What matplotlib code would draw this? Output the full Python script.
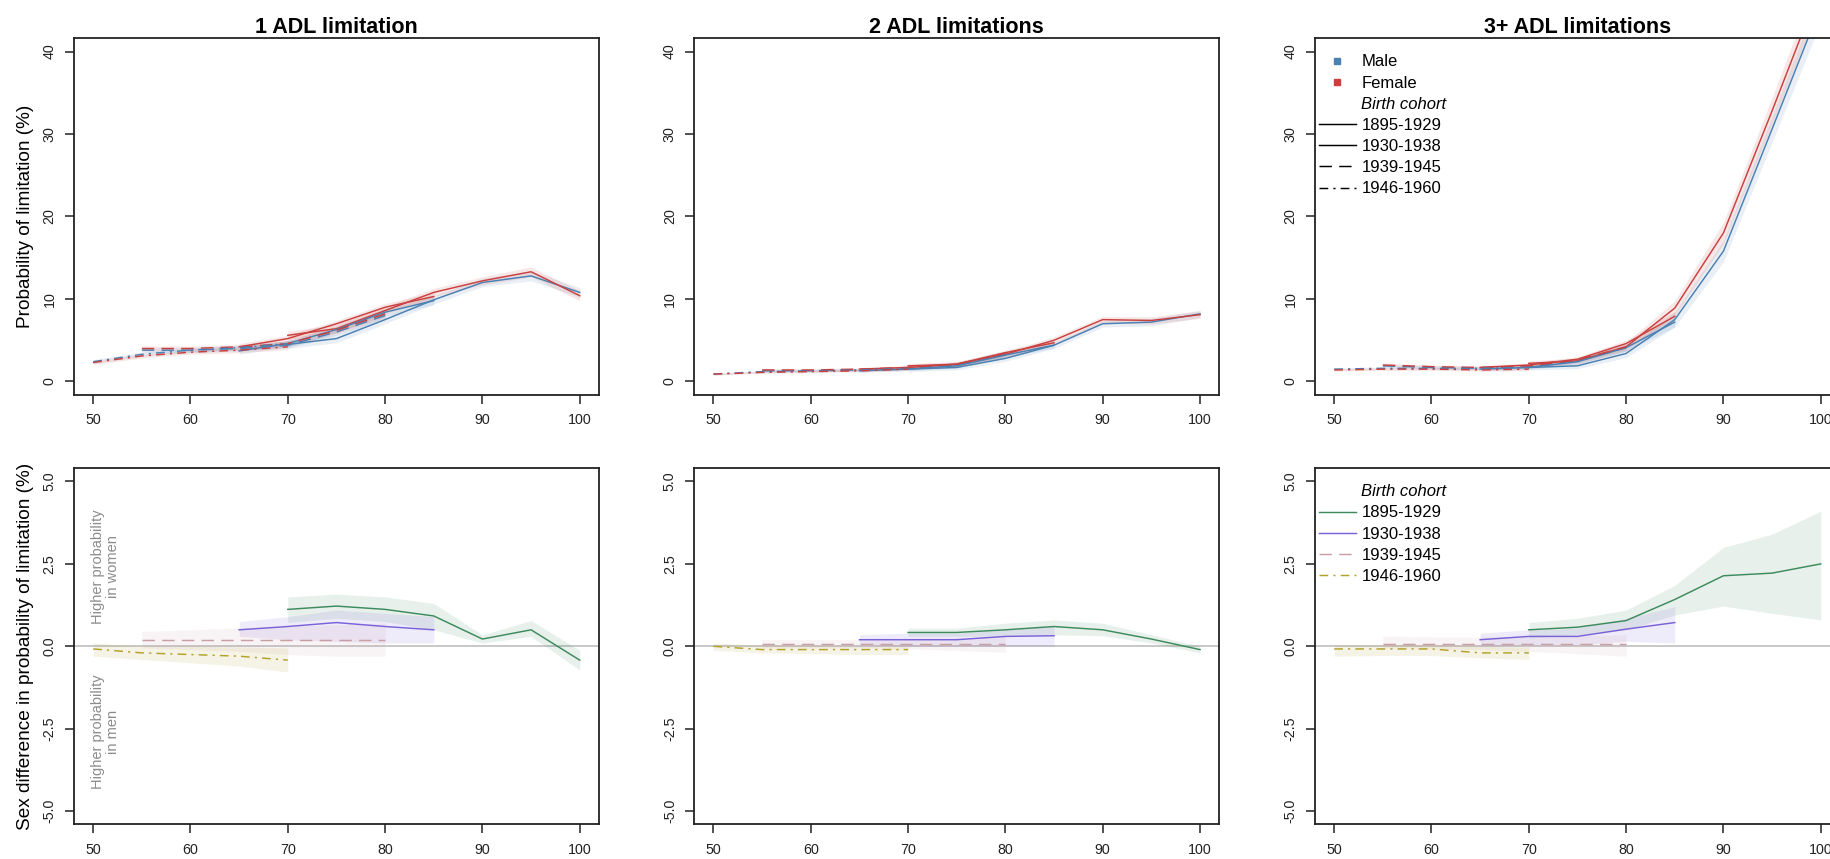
import matplotlib
matplotlib.use("Agg")
import matplotlib.pyplot as plt
from matplotlib.lines import Line2D

plt.rcParams['font.family'] = ['Liberation Sans', 'DejaVu Sans']

# ages observed for each birth cohort
cohorts = ["1895-1929", "1930-1938", "1939-1945", "1946-1960"]
ages_c1 = [70, 75, 80, 85, 90, 95, 100]
ages_c2 = [65, 70, 75, 80, 85]
ages_c3 = [55, 60, 65, 70, 75, 80]
ages_c4 = [50, 55, 60, 65, 70]

panel_titles = ["1 ADL limitation", "2 ADL limitations", "3+ ADL limitations"]

# --- probability of limitation (%), male / female, per panel and cohort ---
adl1_male = [[4.5, 5.2, 7.5, 9.9, 12.0, 12.8, 10.8],
             [3.7, 4.6, 6.3, 8.4, 9.8],
             [3.8, 3.8, 4.0, 4.4, 6.0, 8.0],
             [2.4, 3.3, 3.8, 4.1, 4.6]]
adl1_female = [[5.6, 6.4, 8.6, 10.8, 12.2, 13.3, 10.4],
               [4.2, 5.2, 7.0, 9.0, 10.3],
               [4.0, 4.0, 4.2, 4.6, 6.2, 8.2],
               [2.3, 3.1, 3.55, 3.8, 4.2]]
adl1_halfwidth = [[0.5, 0.5, 0.5, 0.5, 0.5, 0.6, 0.6],
                  [0.4, 0.4, 0.4, 0.45, 0.5],
                  [0.3, 0.3, 0.3, 0.35, 0.4, 0.45],
                  [0.25, 0.25, 0.25, 0.3, 0.35]]

adl2_male = [[1.5, 1.7, 2.8, 4.4, 7.0, 7.2, 8.2],
             [1.3, 1.5, 1.9, 3.2, 4.4],
             [1.3, 1.3, 1.4, 1.6, 2.0, 3.3],
             [0.9, 1.2, 1.3, 1.4, 1.6]]
adl2_female = [[1.9, 2.1, 3.3, 5.0, 7.5, 7.4, 8.1],
               [1.5, 1.7, 2.1, 3.5, 4.7],
               [1.4, 1.4, 1.5, 1.7, 2.1, 3.4],
               [0.9, 1.1, 1.2, 1.3, 1.5]]
adl2_halfwidth = [[0.3, 0.3, 0.35, 0.4, 0.4, 0.45, 0.45],
                  [0.2, 0.2, 0.25, 0.3, 0.35],
                  [0.15, 0.15, 0.15, 0.2, 0.25, 0.3],
                  [0.12, 0.12, 0.12, 0.15, 0.15]]

adl3_male = [[1.7, 1.9, 3.4, 7.5, 15.8, 30.6, 45.5],
             [1.5, 1.7, 2.4, 4.1, 7.2],
             [1.9, 1.7, 1.6, 1.8, 2.5, 4.1],
             [1.5, 1.6, 1.6, 1.6, 1.7]]
adl3_female = [[2.2, 2.5, 4.2, 8.9, 18.0, 32.8, 48.0],
               [1.7, 2.0, 2.7, 4.6, 7.9],
               [2.0, 1.8, 1.7, 1.9, 2.6, 4.2],
               [1.4, 1.5, 1.5, 1.4, 1.5]]
adl3_halfwidth = [[0.3, 0.35, 0.5, 0.9, 1.3, 1.6, 2.0],
                  [0.25, 0.25, 0.3, 0.4, 0.6],
                  [0.2, 0.2, 0.2, 0.2, 0.25, 0.3],
                  [0.15, 0.15, 0.15, 0.15, 0.2]]

# --- sex difference (female - male), with lower / upper bounds ---
adl1_diff = [[1.12, 1.22, 1.12, 0.92, 0.22, 0.5, -0.42],
             [0.5, 0.6, 0.72, 0.6, 0.5],
             [0.2, 0.2, 0.2, 0.2, 0.2, 0.2],
             [-0.08, -0.2, -0.25, -0.3, -0.42]]
adl1_lo = [[0.72, 0.85, 0.75, 0.5, 0.1, 0.3, -0.72],
           [0.3, 0.2, 0.15, 0.1, 0.1],
           [-0.05, -0.1, -0.15, -0.25, -0.3, -0.3],
           [-0.3, -0.4, -0.5, -0.6, -0.78]]
adl1_hi = [[1.5, 1.58, 1.5, 1.3, 0.35, 0.78, -0.12],
           [0.75, 0.9, 1.1, 1.0, 0.9],
           [0.45, 0.5, 0.55, 0.6, 0.65, 0.7],
           [0.1, 0.0, 0.0, -0.02, -0.05]]

adl2_diff = [[0.42, 0.42, 0.5, 0.6, 0.5, 0.22, -0.1],
             [0.2, 0.2, 0.2, 0.3, 0.32],
             [0.08, 0.08, 0.08, 0.08, 0.08, 0.08],
             [0.0, -0.1, -0.1, -0.1, -0.1]]
adl2_lo = [[0.3, 0.3, 0.32, 0.35, 0.32, 0.1, -0.2],
           [0.05, 0.0, 0.0, 0.0, 0.0],
           [-0.05, -0.05, -0.05, -0.08, -0.12, -0.18],
           [-0.12, -0.2, -0.22, -0.25, -0.25]]
adl2_hi = [[0.55, 0.55, 0.7, 0.8, 0.7, 0.35, 0.0],
           [0.35, 0.4, 0.4, 0.5, 0.6],
           [0.2, 0.2, 0.2, 0.22, 0.25, 0.3],
           [0.1, 0.03, 0.02, 0.0, 0.0]]

adl3_diff = [[0.5, 0.58, 0.78, 1.42, 2.14, 2.22, 2.5],
             [0.2, 0.3, 0.3, 0.52, 0.72],
             [0.08, 0.08, 0.08, 0.08, 0.08, 0.08],
             [-0.08, -0.08, -0.08, -0.2, -0.2]]
adl3_lo = [[0.25, 0.35, 0.5, 0.95, 1.22, 1.0, 0.8],
           [0.0, 0.05, 0.05, 0.15, 0.1],
           [-0.05, -0.08, -0.1, -0.15, -0.22, -0.3],
           [-0.3, -0.28, -0.28, -0.35, -0.4]]
adl3_hi = [[0.72, 0.85, 1.1, 1.85, 3.0, 3.4, 4.1],
           [0.4, 0.5, 0.55, 0.85, 1.2],
           [0.3, 0.28, 0.28, 0.3, 0.32, 0.35],
           [0.05, 0.05, 0.05, 0.0, -0.02]]

ages = [ages_c1, ages_c2, ages_c3, ages_c4]
male = [adl1_male, adl2_male, adl3_male]
female = [adl1_female, adl2_female, adl3_female]
halfw = [adl1_halfwidth, adl2_halfwidth, adl3_halfwidth]
diff = [adl1_diff, adl2_diff, adl3_diff]
diff_lo = [adl1_lo, adl2_lo, adl3_lo]
diff_hi = [adl1_hi, adl2_hi, adl3_hi]

col_male = '#4a80b2'
col_female = '#c9403f'
cohort_cols = ['#3d8a5c', '#7a62d8', '#c79fa5', '#b3a12a']
cohort_ls = ['-', '-', (0, (8.5, 5)), (0, (6, 3.5, 1.5, 3.5))]
ink = '#222222'

W, H = 1831, 859
fig = plt.figure(figsize=(W / 100, H / 100), dpi=100)

col_left = [73.7, 694.0, 1314.7]
ax_w = 525.5
rows = [(38.3, 394.7), (468.3, 824.3)]


def make_ax(left, top, bottom):
    ax = fig.add_axes([left / W, 1 - bottom / H, ax_w / W, (bottom - top) / H])
    for s in ax.spines.values():
        s.set_linewidth(1.3)
        s.set_color(ink)
    ax.set_xlim(48, 102)
    ax.set_xticks([50, 60, 70, 80, 90, 100])
    ax.tick_params(length=6.8, width=1.1, color=ink, labelsize=10.3,
                   labelcolor=ink)
    ax.tick_params(axis='x', pad=6.5)
    ax.tick_params(axis='y', pad=5.5)
    return ax


def rotate_yticks(ax):
    for lab in ax.get_yticklabels():
        lab.set_rotation(90)
        lab.set_va('center')


for p in range(3):
    # top row: probabilities by sex
    ax = make_ax(col_left[p], *rows[0])
    ax.set_ylim(-1.6, 41.6)
    ax.set_yticks([0, 10, 20, 30, 40])
    rotate_yticks(ax)
    ax.set_title(panel_titles[p], fontsize=15.5, fontweight='bold', pad=3.5)
    for c in range(4):
        x = ages[c]
        for vals, col in ((male[p][c], col_male), (female[p][c], col_female)):
            lo = [v - h for v, h in zip(vals, halfw[p][c])]
            hi = [v + h for v, h in zip(vals, halfw[p][c])]
            ax.fill_between(x, lo, hi, color=col, alpha=0.12, lw=0)
            ax.plot(x, vals, color=col, lw=1.05, ls=cohort_ls[c])
    if p == 0:
        ax.set_ylabel("Probability of limitation (%)", fontsize=13.7)
        ax.yaxis.set_label_coords(-0.076, 0.5)
    if p == 2:
        handles = [Line2D([], [], marker='s', ms=5, ls='None', color=col_male),
                   Line2D([], [], marker='s', ms=5, ls='None', color=col_female),
                   Line2D([], [], ls='None')]
        handles += [Line2D([], [], color='black', lw=1.05, ls=cohort_ls[c])
                    for c in range(4)]
        leg = ax.legend(handles, ["Male", "Female", "Birth cohort"] + cohorts,
                        loc='upper left', bbox_to_anchor=(0.008, 0.955),
                        frameon=False, fontsize=12, handlelength=2.2,
                        handletextpad=0.35, labelspacing=0.37,
                        borderpad=0, borderaxespad=0)
        leg.get_texts()[2].set_fontstyle('italic')

    # bottom row: sex differences by cohort
    ax = make_ax(col_left[p], *rows[1])
    ax.set_ylim(-5.4, 5.4)
    ax.set_yticks([-5, -2.5, 0, 2.5, 5])
    ax.set_yticklabels(["-5.0", "-2.5", "0.0", "2.5", "5.0"])
    rotate_yticks(ax)
    ax.axhline(0, color='#c4c4c4', lw=1.3, zorder=1)
    for c in range(4):
        x = ages[c]
        ax.fill_between(x, diff_lo[p][c], diff_hi[p][c], color=cohort_cols[c],
                        alpha=0.12, lw=0)
        ax.plot(x, diff[p][c], color=cohort_cols[c], lw=1.05, ls=cohort_ls[c],
                zorder=3)
    if p == 0:
        ax.set_ylabel("Sex difference in probability of limitation (%)",
                      fontsize=13.7)
        ax.yaxis.set_label_coords(-0.076, 0.5)
        ax.text(51.25, 2.42, "Higher probability\nin women", rotation=90,
                ha='center', va='center', multialignment='center',
                color='#8c8c8c', fontsize=10.5, linespacing=1.1)
        ax.text(51.25, -2.6, "Higher probability\nin men", rotation=90,
                ha='center', va='center', multialignment='center',
                color='#8c8c8c', fontsize=10.5, linespacing=1.1)
    if p == 2:
        handles = [Line2D([], [], ls='None')]
        handles += [Line2D([], [], color=cohort_cols[c], lw=1.05, ls=cohort_ls[c])
                    for c in range(4)]
        leg = ax.legend(handles, ["Birth cohort"] + cohorts,
                        loc='upper left', bbox_to_anchor=(0.008, 0.955),
                        frameon=False, fontsize=12, handlelength=2.2,
                        handletextpad=0.35, labelspacing=0.37,
                        borderpad=0, borderaxespad=0)
        leg.get_texts()[0].set_fontstyle('italic')

fig.savefig("out.png", dpi=100)
